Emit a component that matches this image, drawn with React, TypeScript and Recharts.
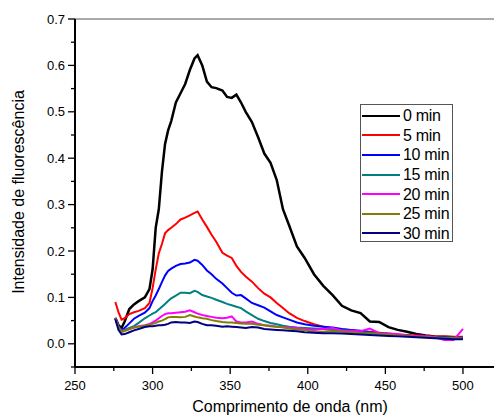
import React from 'react';
import { LineChart, Line, XAxis, YAxis, ReferenceLine } from 'recharts';

const wavelengths = [276, 278, 280, 282, 285, 288, 291, 295, 298, 300, 302, 304, 306, 308, 310, 312, 315, 318, 321, 324, 327, 329, 332, 335, 338, 341, 345, 348, 351, 354, 357, 360, 364, 368, 372, 376, 380, 384, 388, 393, 398, 404, 410, 416, 422, 428, 434, 440, 446, 452, 458, 464, 470, 476, 482, 488, 494, 500];

const min0 = [0.056, 0.040, 0.034, 0.048, 0.075, 0.085, 0.092, 0.100, 0.118, 0.16, 0.25, 0.29, 0.37, 0.43, 0.46, 0.48, 0.52, 0.54, 0.56, 0.59, 0.615, 0.622, 0.60, 0.565, 0.553, 0.551, 0.546, 0.532, 0.530, 0.537, 0.52, 0.50, 0.478, 0.445, 0.41, 0.39, 0.353, 0.29, 0.255, 0.21, 0.185, 0.15, 0.125, 0.105, 0.082, 0.072, 0.066, 0.048, 0.047, 0.036, 0.030, 0.026, 0.021, 0.018, 0.016, 0.015, 0.014, 0.013];
const min5 = [0.090, 0.068, 0.052, 0.055, 0.064, 0.068, 0.071, 0.077, 0.088, 0.12, 0.16, 0.195, 0.215, 0.238, 0.245, 0.250, 0.258, 0.268, 0.272, 0.277, 0.282, 0.285, 0.268, 0.252, 0.235, 0.22, 0.196, 0.19, 0.185, 0.168, 0.155, 0.145, 0.134, 0.12, 0.108, 0.1, 0.088, 0.077, 0.066, 0.056, 0.049, 0.042, 0.037, 0.033, 0.031, 0.029, 0.027, 0.026, 0.024, 0.022, 0.020, 0.019, 0.018, 0.017, 0.016, 0.016, 0.015, 0.015];
const min10 = [0.055, 0.038, 0.030, 0.034, 0.044, 0.054, 0.060, 0.067, 0.077, 0.092, 0.104, 0.118, 0.133, 0.147, 0.157, 0.162, 0.168, 0.172, 0.173, 0.175, 0.181, 0.179, 0.170, 0.158, 0.150, 0.140, 0.130, 0.120, 0.110, 0.104, 0.105, 0.098, 0.088, 0.083, 0.078, 0.070, 0.062, 0.057, 0.052, 0.046, 0.042, 0.039, 0.037, 0.035, 0.032, 0.030, 0.028, 0.025, 0.023, 0.021, 0.019, 0.018, 0.016, 0.015, 0.014, 0.014, 0.013, 0.013];
const min15 = [0.055, 0.036, 0.028, 0.030, 0.034, 0.038, 0.045, 0.055, 0.061, 0.065, 0.068, 0.074, 0.080, 0.086, 0.092, 0.098, 0.104, 0.110, 0.110, 0.109, 0.114, 0.112, 0.105, 0.102, 0.099, 0.095, 0.090, 0.086, 0.083, 0.080, 0.077, 0.070, 0.062, 0.054, 0.049, 0.045, 0.042, 0.039, 0.037, 0.035, 0.034, 0.033, 0.032, 0.030, 0.029, 0.027, 0.025, 0.024, 0.022, 0.021, 0.019, 0.018, 0.016, 0.015, 0.014, 0.013, 0.013, 0.012];
const min20 = [0.055, 0.035, 0.025, 0.028, 0.032, 0.035, 0.038, 0.040, 0.043, 0.046, 0.050, 0.055, 0.060, 0.064, 0.066, 0.066, 0.067, 0.068, 0.069, 0.072, 0.068, 0.065, 0.062, 0.060, 0.058, 0.056, 0.055, 0.056, 0.059, 0.048, 0.046, 0.046, 0.048, 0.043, 0.040, 0.039, 0.037, 0.036, 0.035, 0.034, 0.032, 0.030, 0.032, 0.034, 0.028, 0.028, 0.027, 0.033, 0.023, 0.022, 0.021, 0.018, 0.017, 0.016, 0.014, 0.008, 0.008, 0.032];
const min25 = [0.055, 0.036, 0.026, 0.028, 0.032, 0.035, 0.037, 0.039, 0.041, 0.043, 0.045, 0.048, 0.050, 0.053, 0.057, 0.058, 0.058, 0.057, 0.058, 0.062, 0.059, 0.057, 0.055, 0.054, 0.051, 0.049, 0.047, 0.046, 0.046, 0.045, 0.044, 0.043, 0.043, 0.041, 0.040, 0.038, 0.037, 0.035, 0.033, 0.031, 0.030, 0.025, 0.026, 0.027, 0.026, 0.025, 0.023, 0.022, 0.021, 0.020, 0.018, 0.017, 0.015, 0.014, 0.013, 0.012, 0.012, 0.011];
const min30 = [0.053, 0.030, 0.020, 0.021, 0.025, 0.029, 0.032, 0.036, 0.038, 0.038, 0.039, 0.040, 0.040, 0.041, 0.043, 0.046, 0.047, 0.046, 0.046, 0.045, 0.048, 0.047, 0.043, 0.040, 0.040, 0.039, 0.037, 0.038, 0.037, 0.036, 0.035, 0.034, 0.036, 0.035, 0.032, 0.031, 0.030, 0.029, 0.028, 0.027, 0.025, 0.024, 0.023, 0.023, 0.022, 0.021, 0.020, 0.019, 0.018, 0.017, 0.016, 0.015, 0.014, 0.013, 0.012, 0.011, 0.010, 0.010];

const seriesNames = ['0 min', '5 min', '10 min', '15 min', '20 min', '25 min', '30 min'];
const seriesColors = ['#000000', '#ff0000', '#0000ff', '#008080', '#ff00ff', '#808000', '#000080'];
const seriesValues = [min0, min5, min10, min15, min20, min25, min30];

const xTicks = [250, 275, 300, 325, 350, 375, 400, 425, 450, 475, 500];
const yTicks = [-0.05, 0, 0.05, 0.1, 0.15, 0.2, 0.25, 0.3, 0.35, 0.4, 0.45, 0.5, 0.55, 0.6, 0.65, 0.7];

const data = wavelengths.map((w, i) => {
  const row: Record<string, number> = { w };
  seriesNames.forEach((n, k) => {
    row[n] = seriesValues[k][i];
  });
  return row;
});

const FONT = '"Liberation Sans", Arial, sans-serif';

const XTick = (props: any) => {
  const { x, y, payload } = props;
  const v = payload.value;
  const major = v % 50 === 0;
  return (
    <g>
      <line x1={x} x2={x} y1={y} y2={y + (major ? 7 : 4)} stroke="#000" strokeWidth={1.3} />
      {major && (
        <text x={x} y={y + 23} textAnchor="middle" fontSize={13} fontFamily={FONT} fill="#000">
          {v}
        </text>
      )}
    </g>
  );
};

const YTick = (props: any) => {
  const { x, y, payload } = props;
  const v = payload.value;
  const major = Math.abs(Math.round(v * 10) - v * 10) < 1e-6;
  return (
    <g>
      <line x1={x - (major ? 7 : 4)} x2={x} y1={y} y2={y} stroke="#000" strokeWidth={1.3} />
      {major && (
        <text x={x - 10} y={y + 4.5} textAnchor="end" fontSize={13} fontFamily={FONT} fill="#000">
          {v.toFixed(1)}
        </text>
      )}
    </g>
  );
};

const LegendBox = () => (
  <div
    style={{
      position: 'absolute',
      left: 360,
      top: 104,
      border: '1px solid #555',
      background: '#fff',
      width: 93,
      height: 138,
      boxSizing: 'border-box',
      paddingTop: 1,
      fontFamily: FONT,
      fontSize: 16,
      color: '#000',
      overflow: 'hidden',
    }}
  >
    {seriesNames.map((n, k) => (
      <div key={n} style={{ display: 'flex', alignItems: 'center', height: 19.6, whiteSpace: 'nowrap' }}>
        <svg width={41} height={6} style={{ marginLeft: 1, flex: 'none' }}>
          <line x1={0} x2={38} y1={3} y2={3} stroke={seriesColors[k]} strokeWidth={2} />
        </svg>
        <span style={{ lineHeight: '19px', letterSpacing: -0.3 }}>{n}</span>
      </div>
    ))}
  </div>
);

export default function App() {
  return (
    <div style={{ position: 'absolute', left: 0, top: 0, width: 496, height: 417, background: '#fff' }}>
      <LineChart width={496} height={417} data={data} margin={{ top: 19, right: 2, bottom: 0, left: 0 }}>
        <XAxis
          dataKey="w"
          type="number"
          domain={[250, 520]}
          ticks={xTicks}
          interval={0}
          height={50}
          tickSize={0}
          tickMargin={0}
          tickLine={false}
          tick={<XTick />}
          axisLine={{ stroke: '#000', strokeWidth: 2 }}
          allowDataOverflow
        />
        <YAxis
          type="number"
          domain={[-0.05, 0.7]}
          ticks={yTicks}
          interval={0}
          width={75}
          tickSize={0}
          tickMargin={0}
          tickLine={false}
          tick={<YTick />}
          axisLine={{ stroke: '#000', strokeWidth: 2 }}
          allowDataOverflow
        />
        <ReferenceLine y={0.7} stroke="#555" strokeWidth={1.2} />
        {seriesNames.map((n, k) => (
          <Line
            key={n}
            dataKey={n}
            name={n}
            type="linear"
            stroke={seriesColors[k]}
            strokeWidth={k === 0 ? 2.5 : 2}
            dot={false}
            isAnimationActive={false}
          />
        ))}
        <text x={290} y={412} textAnchor="middle" fontSize={16} fontFamily={FONT} fill="#000">
          Comprimento de onda (nm)
        </text>
        <text
          x={24}
          y={192}
          textAnchor="middle"
          fontSize={16}
          fontFamily={FONT}
          fill="#000"
          transform="rotate(-90, 24, 192)"
        >
          Intensidade de fluorescência
        </text>
      </LineChart>
      <LegendBox />
    </div>
  );
}
